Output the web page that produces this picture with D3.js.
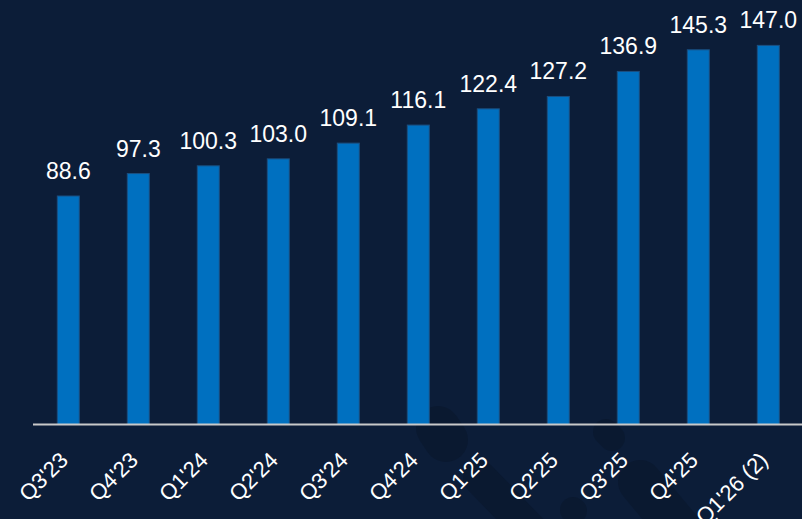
<!DOCTYPE html>
<html>
<head>
<meta charset="utf-8">
<script src="https://cdn.jsdelivr.net/npm/d3@7/dist/d3.min.js"></script>
<style>
  html, body { margin: 0; padding: 0; background: #0c1d38; }
  svg { display: block; }
</style>
</head>
<body>
<svg id="chart" width="802" height="519"></svg>
<script>
const categories = ["Q3'23", "Q4'23", "Q1'24", "Q2'24", "Q3'24", "Q4'24", "Q1'25", "Q2'25", "Q3'25", "Q4'25", "Q1'26 (2)"];
const values = [88.6, 97.3, 100.3, 103.0, 109.1, 116.1, 122.4, 127.2, 136.9, 145.3, 147.0];
const valueLabels = ["88.6", "97.3", "100.3", "103.0", "109.1", "116.1", "122.4", "127.2", "136.9", "145.3", "147.0"];

const W = 802, H = 519;
const baseY = 424.5;
const svg = d3.select("#chart");

svg.append("rect").attr("width", W).attr("height", H).attr("fill", "#0c1d38");

// faint watermark shapes in background
const wm = svg.append("g").attr("stroke", "#091629").attr("stroke-opacity", 0.55)
  .attr("fill", "none").attr("stroke-linecap", "round");
wm.append("line").attr("x1", 438).attr("y1", 428).attr("x2", 446).attr("y2", 440).attr("stroke-width", 44);
wm.append("line").attr("x1", 480).attr("y1", 478).attr("x2", 540).attr("y2", 540).attr("stroke-width", 34);
wm.append("line").attr("x1", 573).attr("y1", 510).attr("x2", 574).attr("y2", 511).attr("stroke-width", 26);
wm.append("line").attr("x1", 606).attr("y1", 432).attr("x2", 612).attr("y2", 438).attr("stroke-width", 26);
wm.append("line").attr("x1", 640).attr("y1", 482).attr("x2", 680).attr("y2", 530).attr("stroke-width", 44);

const x = d3.scaleBand()
  .domain(categories)
  .range([33, 803.6])
  .paddingInner(0.6857)
  .paddingOuter(0.347);

const y = d3.scaleLinear().domain([0, 164.6]).range([baseY, 0]);

const data = categories.map((c, i) => ({ c, v: values[i], l: valueLabels[i] }));

svg.append("g").selectAll("rect").data(data).join("rect")
  .attr("x", d => x(d.c))
  .attr("y", d => y(d.v))
  .attr("width", x.bandwidth())
  .attr("height", d => baseY - y(d.v))
  .attr("fill", "#0070c0")
  .attr("stroke", "#1b4f80")
  .attr("stroke-width", 1);

svg.append("g").selectAll("text").data(data).join("text")
  .attr("x", d => x(d.c) + x.bandwidth() / 2)
  .attr("y", d => y(d.v) - 17)
  .attr("text-anchor", "middle")
  .attr("fill", "#ffffff")
  .attr("font-family", "Liberation Sans, Arial, sans-serif")
  .attr("font-size", 23)
  .text(d => d.l);

// baseline
svg.append("line")
  .attr("x1", 33).attr("x2", 802)
  .attr("y1", baseY).attr("y2", baseY)
  .attr("stroke", "#c9c9c9").attr("stroke-width", 2);

const axis = d3.axisBottom(x).tickSize(0).tickPadding(0);
const gx = svg.append("g").attr("transform", `translate(0,${baseY})`).call(axis);
gx.select(".domain").remove();
gx.selectAll("text")
  .attr("fill", "#ffffff")
  .attr("font-family", "Liberation Sans, Arial, sans-serif")
  .attr("font-size", 22)
  .attr("text-anchor", "end")
  .attr("x", 0).attr("y", 0).attr("dy", 0)
  .attr("transform", "translate(1,37) rotate(-45)");
</script>
</body>
</html>
